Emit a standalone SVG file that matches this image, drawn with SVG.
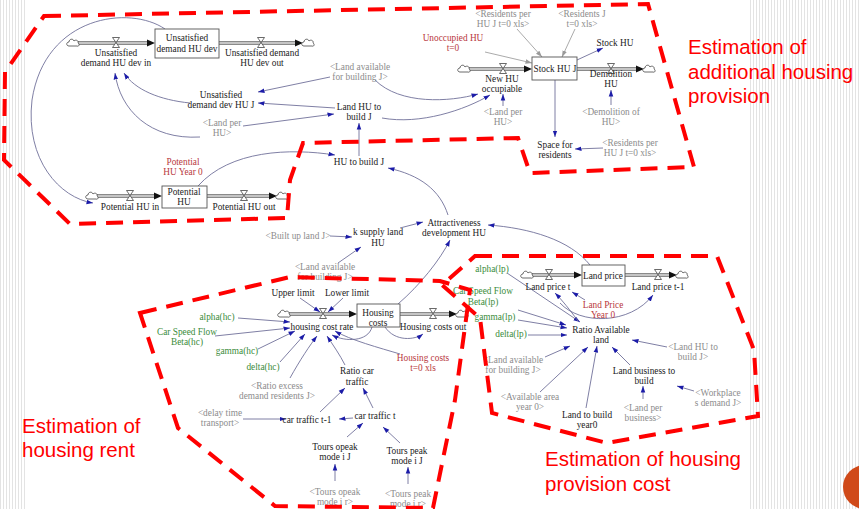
<svg xmlns="http://www.w3.org/2000/svg" width="859" height="509" viewBox="0 0 859 509">
  <defs>
    <pattern id="stripes" width="3" height="10" patternUnits="userSpaceOnUse">
      <rect x="0" y="0" width="1" height="10" fill="#e3e3e3"/>
    </pattern>
    <marker id="ah" viewBox="0 0 10 10" refX="10" refY="5" markerWidth="6.5" markerHeight="6.5" orient="auto" markerUnits="userSpaceOnUse">
      <path d="M0,1.5 L10,5 L0,8.5 Z" fill="#1c1ca8"/>
    </marker>
    <marker id="ahg" viewBox="0 0 10 10" refX="10" refY="5" markerWidth="6.5" markerHeight="6.5" orient="auto" markerUnits="userSpaceOnUse">
      <path d="M0,1.5 L10,5 L0,8.5 Z" fill="#9a9a9a"/>
    </marker>
    <path id="cloud" d="M-4,3 C-7,3 -7,-1 -4,-1 C-4,-4 0,-5 1,-2 C3,-4 6,-2 5,0 C7,1 6,4 4,3 Z"/>
    <path id="valve" d="M-3.5,-5.5 H3.5 L-3.5,4.5 H3.5 Z"/>
  </defs>
  <style>
    .t { font-family: "Liberation Serif", "Times New Roman", serif; font-size: 9.3px; fill: #222; text-anchor: middle; }
    .g { fill: #8c8c8c; }
    .gr { fill: #3a8c3a; }
    .r { fill: #b8383d; }
    .box { fill: #fff; stroke: #555; stroke-width: 0.9; }
    .lk { fill: none; stroke: #70709a; stroke-width: 0.9; marker-end: url(#ah); }
    .lkg { fill: none; stroke: #a0a0a0; stroke-width: 0.9; marker-end: url(#ahg); }
    .pipe { fill: none; stroke: #8a8a8a; stroke-width: 4.2; }
    .pipein { fill: none; stroke: #d8d8d8; stroke-width: 1.4; }
    .head { fill: #111; }
    .cl { fill: #fff; stroke: #444; stroke-width: 0.8; }
    .vl { fill: #fff; stroke: #444; stroke-width: 0.8; }
    .zone { fill: none; stroke: #ff0000; stroke-width: 4; stroke-dasharray: 17 10; }
    .lbl { font-family: "Liberation Sans", Arial, sans-serif; font-size: 20.5px; fill: #ff0000; }
  </style>

  <!-- page background -->
  <rect width="859" height="509" fill="#fff"/>
  <rect x="0" y="0" width="25" height="509" fill="url(#stripes)"/>
  <rect x="748" y="0" width="111" height="509" fill="url(#stripes)"/>
  <circle cx="865" cy="487" r="22" fill="#d04a1a"/>

  <!-- material flows: pipes, valves and clouds -->
  <g id="flows">
    <!-- unsatisfied demand -->
    <line class="pipe" x1="78" y1="43" x2="148" y2="43"/><line class="pipein" x1="78" y1="43" x2="148" y2="43"/>
    <path class="head" d="M147,39.5 L155,43 L147,46.5 Z"/>
    <line class="pipe" x1="219" y1="43" x2="296" y2="43"/><line class="pipein" x1="219" y1="43" x2="296" y2="43"/>
    <path class="head" d="M295,39.5 L303,43 L295,46.5 Z"/>
    <use href="#cloud" class="cl" x="73" y="43"/><use href="#cloud" class="cl" x="308" y="43"/>
    <use href="#valve" class="vl" x="116" y="43"/><use href="#valve" class="vl" x="261" y="43"/>
    <!-- stock HU J -->
    <line class="pipe" x1="469" y1="69" x2="525" y2="69"/><line class="pipein" x1="469" y1="69" x2="525" y2="69"/>
    <path class="head" d="M524,65.5 L532,69 L524,72.5 Z"/>
    <line class="pipe" x1="577" y1="69" x2="637" y2="69"/><line class="pipein" x1="577" y1="69" x2="637" y2="69"/>
    <path class="head" d="M636,65.5 L644,69 L636,72.5 Z"/>
    <use href="#cloud" class="cl" x="464" y="69"/><use href="#cloud" class="cl" x="649" y="69"/>
    <use href="#valve" class="vl" x="503" y="69"/><use href="#valve" class="vl" x="611" y="69"/>
    <!-- potential HU -->
    <line class="pipe" x1="97" y1="196" x2="155" y2="196"/><line class="pipein" x1="97" y1="196" x2="155" y2="196"/>
    <path class="head" d="M154,192.5 L162,196 L154,199.5 Z"/>
    <line class="pipe" x1="207" y1="196" x2="270" y2="196"/><line class="pipein" x1="207" y1="196" x2="270" y2="196"/>
    <path class="head" d="M269,192.5 L277,196 L269,199.5 Z"/>
    <use href="#cloud" class="cl" x="92" y="196"/><use href="#cloud" class="cl" x="282" y="196"/>
    <use href="#valve" class="vl" x="130" y="196"/><use href="#valve" class="vl" x="244" y="196"/>
    <!-- housing costs -->
    <line class="pipe" x1="289" y1="314" x2="350" y2="314"/><line class="pipein" x1="289" y1="314" x2="350" y2="314"/>
    <path class="head" d="M349,310.5 L357,314 L349,317.5 Z"/>
    <line class="pipe" x1="400" y1="314" x2="450" y2="314"/><line class="pipein" x1="400" y1="314" x2="450" y2="314"/>
    <path class="head" d="M449,310.5 L457,314 L449,317.5 Z"/>
    <use href="#cloud" class="cl" x="284" y="314"/><use href="#cloud" class="cl" x="462" y="314"/>
    <use href="#valve" class="vl" x="323" y="314"/><use href="#valve" class="vl" x="433" y="314"/>
    <!-- land price -->
    <line class="pipe" x1="532" y1="275" x2="575" y2="275"/><line class="pipein" x1="532" y1="275" x2="575" y2="275"/>
    <path class="head" d="M574,271.5 L582,275 L574,278.5 Z"/>
    <line class="pipe" x1="625" y1="275" x2="670" y2="275"/><line class="pipein" x1="625" y1="275" x2="670" y2="275"/>
    <path class="head" d="M669,271.5 L677,275 L669,278.5 Z"/>
    <use href="#cloud" class="cl" x="527" y="275"/><use href="#cloud" class="cl" x="682" y="275"/>
    <use href="#valve" class="vl" x="549" y="275"/><use href="#valve" class="vl" x="658" y="275"/>
  </g>

  <!-- information links -->
  <g id="connectors">
    <path class="lk" d="M165,29 C130,5 45,15 32,100 C25,160 60,198 93,203"/>
    <path class="lk" d="M190,103 C160,100 135,90 124,73"/>
    <path class="lk" d="M200,137 C150,140 120,110 115,73"/>
    <path class="lk" d="M243,126 L334,114"/>
    <path class="lk" d="M330,77 L258,92"/>
    <path class="lk" d="M335,108 L258,103"/>
    <path class="lk" d="M375,80 C400,105 450,102 478,94"/>
    <path class="lk" d="M382,118 C420,125 465,110 490,95"/>
    <path class="lk" d="M359,156 L359,123"/>
    <path class="lk" d="M198,186 C230,150 290,148 335,155"/>
    <path class="lk" d="M448,215 C440,190 420,175 388,168"/>
    <path class="lk" d="M400,228 L423,222"/>
    <path class="lk" d="M330,236 L352,237"/>
    <path class="lk" d="M338,263 L361,247"/>
    <path class="lk" d="M590,265 C570,240 530,228 488,225"/>
    <path class="lk" d="M398,304 C420,285 440,260 450,240"/>
    <path class="lk" d="M300,298 L320,312"/>
    <path class="lk" d="M343,298 L328,312"/>
    <path class="lk" d="M238,318 L290,322"/>
    <path class="lk" d="M215,336 L290,328"/>
    <path class="lk" d="M258,349 L295,331"/>
    <path class="lk" d="M280,362 L305,334"/>
    <path class="lk" d="M290,378 C300,360 310,345 317,336"/>
    <path class="lk" d="M345,365 C340,355 333,345 327,336"/>
    <path class="lk" d="M372,327 C368,342 345,342 332,335"/>
    <path class="lk" d="M385,327 C395,342 415,340 423,334"/>
    <path class="lk" d="M400,354 C380,348 350,340 335,331"/>
    <path class="lk" d="M243,419 L286,419"/>
    <path class="lk" d="M353,418 L339,419"/>
    <path class="lk" d="M320,412 L345,388"/>
    <path class="lk" d="M373,408 L363,388"/>
    <path class="lk" d="M347,437 L363,423"/>
    <path class="lk" d="M400,443 L383,427"/>
    <path class="lk" d="M335,481 L335,464"/>
    <path class="lk" d="M408,484 L408,467"/>
    <path class="lk" d="M507,273 L580,322"/>
    <path class="lk" d="M578,321 C570,310 562,300 555,293"/>
    <path class="lk" d="M560,303 C580,325 630,325 653,295"/>
    <path class="lk" d="M585,300 L572,292"/>
    <path class="lk" d="M518,310 L566,325"/>
    <path class="lk" d="M518,320 L567,328"/>
    <path class="lk" d="M528,335 L567,335"/>
    <path class="lk" d="M545,357 L570,346"/>
    <path class="lk" d="M540,392 L588,347"/>
    <path class="lk" d="M586,408 L597,346"/>
    <path class="lk" d="M630,365 L612,347"/>
    <path class="lk" d="M667,347 L632,340"/>
    <path class="lk" d="M643,399 L643,386"/>
    <path class="lk" d="M694,391 L677,386"/>
    <path class="lkg" d="M517,29 L542,57"/>
    <path class="lkg" d="M575,29 L562,57"/>
    <path class="lkg" d="M485,52 L532,63"/>
    <path class="lk" d="M577,60 L603,48"/>
    <path class="lk" d="M503,106 L503,94"/>
    <path class="lk" d="M611,105 L611,90"/>
    <path class="lk" d="M555,80 L555,137"/>
    <path class="lk" d="M603,148 L575,149"/>
  </g>

  <!-- stocks -->
  <g id="stock-unsatisfied-demand">
    <rect class="box" x="155" y="29" width="64" height="29"/>
    <text class="t" x="187" y="41"><tspan x="187">Unsatisfied</tspan><tspan x="187" dy="10.5">demand HU dev</tspan></text>
  </g>
  <g id="stock-hu-j">
    <rect class="box" x="532" y="57" width="45" height="23"/>
    <text class="t" x="555" y="72">Stock HU J</text>
  </g>
  <g id="stock-potential-hu">
    <rect class="box" x="162" y="186" width="45" height="22"/>
    <text class="t" x="184" y="195"><tspan x="184">Potential</tspan><tspan x="184" dy="10">HU</tspan></text>
  </g>
  <g id="stock-housing-costs">
    <rect class="box" x="357" y="304" width="43" height="23"/>
    <text class="t" x="378" y="316"><tspan x="378">Housing</tspan><tspan x="378" dy="9.5">costs</tspan></text>
  </g>
  <g id="stock-land-price">
    <rect class="box" x="582" y="265" width="43" height="21"/>
    <text class="t" x="603" y="279">Land price</text>
  </g>

  <!-- flow rates -->
  <g id="flow-unsat-in"><text class="t" x="116" y="56"><tspan x="116">Unsatisfied</tspan><tspan x="116" dy="10">demand HU dev in</tspan></text></g>
  <g id="flow-unsat-out"><text class="t" x="262" y="56"><tspan x="262">Unsatisfied demand</tspan><tspan x="262" dy="10">HU dev out</tspan></text></g>
  <g id="flow-new-hu"><text class="t" x="502" y="82"><tspan x="502">New HU</tspan><tspan x="502" dy="10">occupiable</tspan></text></g>
  <g id="flow-demolition"><text class="t" x="611" y="77"><tspan x="611">Demolition</tspan><tspan x="611" dy="10">HU</tspan></text></g>
  <g id="flow-potential-in"><text class="t" x="130" y="210">Potential HU in</text></g>
  <g id="flow-potential-out"><text class="t" x="244" y="210">Potential HU out</text></g>
  <g id="flow-housing-rate"><text class="t" x="322" y="330">housing cost rate</text></g>
  <g id="flow-housing-out"><text class="t" x="433" y="330">Housing costs out</text></g>
  <g id="flow-land-price-t"><text class="t" x="548" y="290">Land price t</text></g>
  <g id="flow-land-price-t1"><text class="t" x="658" y="290">Land price t-1</text></g>

  <!-- auxiliaries -->
  <g id="aux-unsat-dev-j"><text class="t" x="221" y="98"><tspan x="221">Unsatisfied</tspan><tspan x="221" dy="10">demand dev HU J</tspan></text></g>
  <g id="aux-land-per-hu-1"><text class="t g" x="222" y="126"><tspan x="222">&lt;Land per</tspan><tspan x="222" dy="10">HU&gt;</tspan></text></g>
  <g id="aux-land-avail-1"><text class="t g" x="360" y="70"><tspan x="360">&lt;Land available</tspan><tspan x="360" dy="9.5">for building J&gt;</tspan></text></g>
  <g id="aux-land-hu-build"><text class="t" x="359" y="110"><tspan x="359">Land HU to</tspan><tspan x="359" dy="10">build J</tspan></text></g>
  <g id="aux-hu-build"><text class="t" x="359" y="165">HU to build J</text></g>
  <g id="aux-unoccupied"><text class="t r" x="453" y="41"><tspan x="453">Unoccupied HU</tspan><tspan x="453" dy="10">t=0</tspan></text></g>
  <g id="aux-res-per-hu-1"><text class="t g" x="503" y="17"><tspan x="503">&lt;Residents per</tspan><tspan x="503" dy="10">HU J t=0 xls&gt;</tspan></text></g>
  <g id="aux-res-j"><text class="t g" x="582" y="17"><tspan x="582">&lt;Residents J</tspan><tspan x="582" dy="10">t=0 xls&gt;</tspan></text></g>
  <g id="aux-stock-hu"><text class="t" x="615" y="46">Stock HU</text></g>
  <g id="aux-land-per-hu-2"><text class="t g" x="503" y="115"><tspan x="503">&lt;Land per</tspan><tspan x="503" dy="10">HU&gt;</tspan></text></g>
  <g id="aux-demolition-of"><text class="t g" x="611" y="115"><tspan x="611">&lt;Demolition of</tspan><tspan x="611" dy="10">HU&gt;</tspan></text></g>
  <g id="aux-space"><text class="t" x="555" y="148"><tspan x="555">Space for</tspan><tspan x="555" dy="9.5">residents</tspan></text></g>
  <g id="aux-res-per-hu-2"><text class="t g" x="630" y="146"><tspan x="630">&lt;Residents per</tspan><tspan x="630" dy="10">HU J t=0 xls&gt;</tspan></text></g>
  <g id="aux-potential-year0"><text class="t r" x="183" y="165"><tspan x="183">Potential</tspan><tspan x="183" dy="10">HU Year 0</tspan></text></g>
  <g id="aux-attractiveness"><text class="t" x="454" y="226"><tspan x="454">Attractiveness</tspan><tspan x="454" dy="9.5">development HU</tspan></text></g>
  <g id="aux-k-supply"><text class="t" x="378" y="235"><tspan x="378">k supply land</tspan><tspan x="378" dy="10.5">HU</tspan></text></g>
  <g id="aux-built-up"><text class="t g" x="298" y="239">&lt;Built up land J&gt;</text></g>
  <g id="aux-land-avail-2"><text class="t g" x="325" y="270"><tspan x="325">&lt;Land available</tspan><tspan x="325" dy="10">for building J&gt;</tspan></text></g>

  <g id="aux-upper"><text class="t" x="293" y="296">Upper limit</text></g>
  <g id="aux-lower"><text class="t" x="347" y="296">Lower limit</text></g>
  <g id="aux-alpha-hc"><text class="t gr" x="217" y="320">alpha(hc)</text></g>
  <g id="aux-beta-hc"><text class="t gr" x="187" y="335"><tspan x="187">Car Speed Flow</tspan><tspan x="187" dy="10">Beta(hc)</tspan></text></g>
  <g id="aux-gamma-hc"><text class="t gr" x="237" y="354">gamma(hc)</text></g>
  <g id="aux-delta-hc"><text class="t gr" x="263" y="370">delta(hc)</text></g>
  <g id="aux-ratio-excess"><text class="t g" x="277" y="389"><tspan x="277">&lt;Ratio excess</tspan><tspan x="277" dy="10">demand residents J&gt;</tspan></text></g>
  <g id="aux-ratio-car"><text class="t" x="357" y="374"><tspan x="357">Ratio car</tspan><tspan x="357" dy="10.5">traffic</tspan></text></g>
  <g id="aux-housing-costs-t0"><text class="t r" x="423" y="361"><tspan x="423">Housing costs</tspan><tspan x="423" dy="9.5">t=0 xls</tspan></text></g>
  <g id="aux-delay"><text class="t g" x="220" y="416"><tspan x="220">&lt;delay time</tspan><tspan x="220" dy="10">transport&gt;</tspan></text></g>
  <g id="aux-car-t1"><text class="t" x="307" y="423">car traffic t-1</text></g>
  <g id="aux-car-t"><text class="t" x="375" y="419">car traffic t</text></g>
  <g id="aux-tours-opeak"><text class="t" x="335" y="450"><tspan x="335">Tours opeak</tspan><tspan x="335" dy="10">mode i J</tspan></text></g>
  <g id="aux-tours-peak"><text class="t" x="407" y="454"><tspan x="407">Tours peak</tspan><tspan x="407" dy="10">mode i J</tspan></text></g>
  <g id="aux-tours-opeak-r"><text class="t g" x="335" y="495"><tspan x="335">&lt;Tours opeak</tspan><tspan x="335" dy="10">mode i r&gt;</tspan></text></g>
  <g id="aux-tours-peak-r"><text class="t g" x="408" y="497"><tspan x="408">&lt;Tours peak</tspan><tspan x="408" dy="9.5">mode i r&gt;</tspan></text></g>

  <g id="aux-alpha-lp"><text class="t gr" x="492" y="272">alpha(lp)</text></g>
  <g id="aux-land-price-year0"><text class="t r" x="603" y="308"><tspan x="603">Land Price</tspan><tspan x="603" dy="10">Year 0</tspan></text></g>
  <g id="aux-beta-lp"><text class="t gr" x="483" y="294"><tspan x="483">Car Speed Flow</tspan><tspan x="483" dy="10.5">Beta(lp)</tspan></text></g>
  <g id="aux-gamma-lp"><text class="t gr" x="495" y="320">gamma(lp)</text></g>
  <g id="aux-delta-lp"><text class="t gr" x="511" y="337">delta(lp)</text></g>
  <g id="aux-ratio-land"><text class="t" x="601" y="333"><tspan x="601">Ratio Available</tspan><tspan x="601" dy="10">land</tspan></text></g>
  <g id="aux-land-avail-3"><text class="t g" x="513" y="363"><tspan x="513">&lt;Land available</tspan><tspan x="513" dy="10">for building J&gt;</tspan></text></g>
  <g id="aux-available-area"><text class="t g" x="530" y="400"><tspan x="530">&lt;Available area</tspan><tspan x="530" dy="10">year 0&gt;</tspan></text></g>
  <g id="aux-land-build-year0"><text class="t" x="587" y="418"><tspan x="587">Land to build</tspan><tspan x="587" dy="9.5">year0</tspan></text></g>
  <g id="aux-land-business"><text class="t" x="644" y="374"><tspan x="644">Land business to</tspan><tspan x="644" dy="9.5">build</tspan></text></g>
  <g id="aux-land-hu-build-shadow"><text class="t g" x="693" y="350"><tspan x="693">&lt;Land HU to</tspan><tspan x="693" dy="9.5">build J&gt;</tspan></text></g>
  <g id="aux-land-per-business"><text class="t g" x="643" y="411"><tspan x="643">&lt;Land per</tspan><tspan x="643" dy="10">business&gt;</tspan></text></g>
  <g id="aux-workplace"><text class="t g" x="718" y="396"><tspan x="718">&lt;Workplace</tspan><tspan x="718" dy="10">s demand J&gt;</tspan></text></g>

  <!-- highlighted sub-model areas -->
  <g id="zones">
    <path class="zone" d="M44,16 L648,4 L694,167 L530,173 L518,138 L303,143 L290,180 L287,218 L70,224 L4,160 L5,72 Z"/>
    <path class="zone" d="M140,313 L290,277 L440,281 L470,290 L455,400 L433,508 L275,506 L178,428 Z"/>
    <path class="zone" d="M475,256 L717,256 L754,350 L758,416 L607,443 L492,413 L480,318 L442,285 Z"/>
  </g>

  <g id="zone-labels">
    <text class="lbl" x="688" y="54"><tspan x="688">Estimation of</tspan><tspan x="688" dy="24.5">additional housing</tspan><tspan x="688" dy="24.5">provision</tspan></text>
    <text class="lbl" x="22" y="433"><tspan x="22">Estimation of</tspan><tspan x="22" dy="24">housing rent</tspan></text>
    <text class="lbl" x="545" y="466"><tspan x="545">Estimation of housing</tspan><tspan x="545" dy="24.5">provision cost</tspan></text>
  </g>
</svg>
